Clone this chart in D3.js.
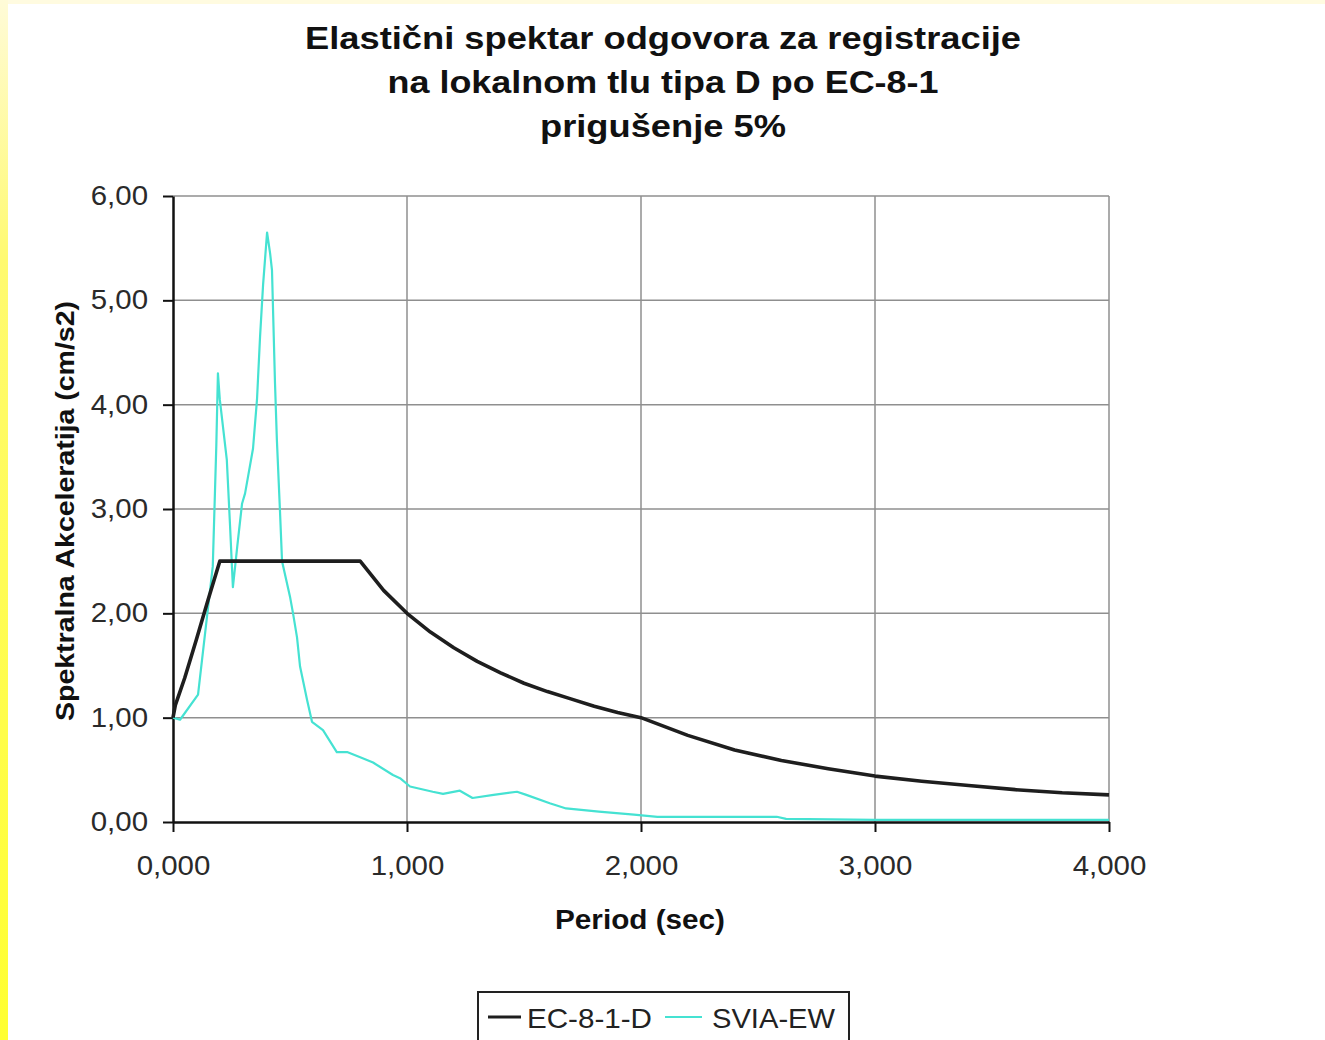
<!DOCTYPE html>
<html>
<head>
<meta charset="utf-8">
<script src="https://cdn.jsdelivr.net/npm/d3@7/dist/d3.min.js"></script>
<style>
  html, body { margin: 0; padding: 0; background: #fff; }
  svg { display: block; }
  text { font-family: "Liberation Sans", Arial, sans-serif; }
</style>
</head>
<body>
<svg id="chart" width="1325" height="1040"></svg>
<script>
// Title lines
const titleLines = [
  "Elastični spektar odgovora za registracije",
  "na lokalnom tlu tipa D po EC-8-1",
  "prigušenje 5%"
];

// Axis ticks
const xTicks = [0, 1, 2, 3, 4];
const xTickLabels = ["0,000", "1,000", "2,000", "3,000", "4,000"];
const yTicks = [0, 1, 2, 3, 4, 5, 6];
const yTickLabels = ["0,00", "1,00", "2,00", "3,00", "4,00", "5,00", "6,00"];

// Series names
const seriesNames = ["EC-8-1-D", "SVIA-EW"];

// EC-8-1 design spectrum, ground type D (period in s, Se)
const ecPeriod = [0.00, 0.01, 0.05, 0.10, 0.15, 0.20, 0.80, 0.90, 1.00, 1.10, 1.20, 1.30, 1.40, 1.50,
                  1.60, 1.70, 1.80, 1.90, 2.00, 2.20, 2.40, 2.60, 2.80, 3.00, 3.20, 3.40, 3.60, 3.80, 4.00];
const ecValue  = [1.00, 1.12, 1.38, 1.75, 2.13, 2.50, 2.50, 2.22, 2.00, 1.82, 1.67, 1.54, 1.43, 1.33,
                  1.25, 1.18, 1.11, 1.05, 1.00, 0.83, 0.69, 0.59, 0.51, 0.44, 0.39, 0.35, 0.31, 0.28, 0.26];

// Response spectrum of the SVIA-EW record
const sviaPeriod = [0.000, 0.030, 0.107, 0.170, 0.185, 0.192, 0.200, 0.230, 0.244, 0.256, 0.275, 0.295,
                    0.308, 0.342, 0.359, 0.372, 0.385, 0.402, 0.415, 0.423, 0.436, 0.444, 0.457, 0.466,
                    0.500, 0.513, 0.530, 0.543, 0.573, 0.594, 0.641, 0.700, 0.744, 0.800, 0.855, 0.940,
                    0.970, 1.013, 1.110, 1.154, 1.226, 1.280, 1.370, 1.470, 1.510, 1.610, 1.680, 1.820,
                    1.970, 2.070, 2.580, 2.620, 3.000, 3.500, 4.000];
const sviaValue  = [1.00, 0.98, 1.22, 2.45, 3.60, 4.30, 4.05, 3.47, 2.83, 2.25, 2.65, 3.05,
                    3.15, 3.58, 4.05, 4.65, 5.15, 5.65, 5.45, 5.29, 4.20, 3.66, 2.99, 2.50,
                    2.16, 2.00, 1.77, 1.49, 1.17, 0.96, 0.88, 0.67, 0.67, 0.62, 0.57, 0.45,
                    0.42, 0.34, 0.29, 0.27, 0.30, 0.23, 0.26, 0.29, 0.26, 0.18, 0.13, 0.10,
                    0.07, 0.05, 0.05, 0.03, 0.02, 0.02, 0.02];

const colors = ["#1e1e1e", "#45e2d2"];

const svg = d3.select("#chart");

// Widen a text element horizontally by a factor (slightly wide lettering)
function widen(sel, factor) {
  sel.each(function () {
    const w = this.getComputedTextLength();
    d3.select(this).attr("textLength", w * factor).attr("lengthAdjust", "spacingAndGlyphs");
  });
}

// Yellow frame along the top and left edge
const defs = svg.append("defs");
const grad = defs.append("linearGradient").attr("id", "edge").attr("x1", 0).attr("y1", 0).attr("x2", 0).attr("y2", 1);
grad.append("stop").attr("offset", "0%").attr("stop-color", "#fffbd8");
grad.append("stop").attr("offset", "25%").attr("stop-color", "#fffa70");
grad.append("stop").attr("offset", "100%").attr("stop-color", "#ffff30");
svg.append("rect").attr("x", 0).attr("y", 0).attr("width", 1325).attr("height", 4).attr("fill", "#fffbe0");
svg.append("rect").attr("x", 0).attr("y", 0).attr("width", 8).attr("height", 1040).attr("fill", "url(#edge)");

const x = d3.scaleLinear().domain([0, 4]).range([173, 1109]);
const y = d3.scaleLinear().domain([0, 6]).range([822, 196]);

// Title
const titleWidths = [716, 551, 246];
svg.append("g").selectAll("text").data(titleLines).join("text")
  .attr("x", 663).attr("y", (d, i) => 49 + i * 44)
  .attr("text-anchor", "middle")
  .attr("font-size", 32).attr("font-weight", "bold").attr("fill", "#111")
  .attr("textLength", (d, i) => titleWidths[i]).attr("lengthAdjust", "spacingAndGlyphs")
  .text(d => d);

// Gridlines
const grid = svg.append("g").attr("stroke", "#8f8f8f").attr("stroke-width", 1.5);
grid.selectAll(".gy").data(yTicks.filter(v => v > 0)).join("line")
  .attr("x1", x(0)).attr("x2", x(4)).attr("y1", d => y(d)).attr("y2", d => y(d));
grid.selectAll(".gx").data(xTicks.filter(v => v > 0)).join("line")
  .attr("x1", d => x(d)).attr("x2", d => x(d)).attr("y1", y(0)).attr("y2", y(6));

// Axes
const xAxis = d3.axisBottom(x).tickValues(xTicks).tickFormat((d, i) => xTickLabels[i])
  .tickSizeInner(10).tickSizeOuter(0).tickPadding(24);
const yAxis = d3.axisLeft(y).tickValues(yTicks).tickFormat((d, i) => yTickLabels[i])
  .tickSizeInner(10).tickSizeOuter(0).tickPadding(15);

const gx = svg.append("g").attr("transform", `translate(0,${y(0)})`).call(xAxis);
const gy = svg.append("g").attr("transform", `translate(${x(0)},0)`).call(yAxis);
[gx, gy].forEach(g => {
  g.select(".domain").attr("stroke", "#111").attr("stroke-width", 2.5);
  g.selectAll(".tick line").attr("stroke", "#111").attr("stroke-width", 2);
  g.selectAll(".tick text").attr("font-size", 27).attr("fill", "#2a2a2a")
    .attr("font-family", "'Liberation Sans', Arial, sans-serif");
  widen(g.selectAll(".tick text"), 1.09);
});
gx.selectAll(".tick text").attr("dy", "0.71em");

// Axis titles
svg.append("text").attr("x", 640).attr("y", 929).attr("text-anchor", "middle")
  .attr("font-size", 27).attr("font-weight", "bold").attr("fill", "#111")
  .attr("textLength", 170).attr("lengthAdjust", "spacingAndGlyphs")
  .text("Period (sec)");
svg.append("text").attr("transform", "translate(74,511) rotate(-90)").attr("text-anchor", "middle")
  .attr("font-size", 26).attr("font-weight", "bold").attr("fill", "#111")
  .attr("textLength", 420).attr("lengthAdjust", "spacingAndGlyphs")
  .text("Spektralna Akceleratija (cm/s2)");

// Series lines
const line = d3.line().x(d => x(d[0])).y(d => y(d[1]));
const ecData = ecPeriod.map((t, i) => [t, ecValue[i]]);
const sviaData = sviaPeriod.map((t, i) => [t, sviaValue[i]]);

svg.append("path").datum(sviaData).attr("d", line)
  .attr("fill", "none").attr("stroke", colors[1]).attr("stroke-width", 2.2).attr("stroke-linejoin", "round");
svg.append("path").datum(ecData).attr("d", line)
  .attr("fill", "none").attr("stroke", colors[0]).attr("stroke-width", 3.6).attr("stroke-linejoin", "round");

// Legend
const lg = svg.append("g");
lg.append("rect").attr("x", 478).attr("y", 992).attr("width", 371).attr("height", 52)
  .attr("fill", "#fff").attr("stroke", "#222").attr("stroke-width", 2);
const legendItems = [
  { name: seriesNames[0], color: colors[0], w: 3.2, x1: 488, x2: 521, tx: 527, tw: 125 },
  { name: seriesNames[1], color: colors[1], w: 2.2, x1: 665, x2: 702, tx: 712, tw: 123 }
];
legendItems.forEach(it => {
  lg.append("line").attr("x1", it.x1).attr("x2", it.x2).attr("y1", 1017).attr("y2", 1017)
    .attr("stroke", it.color).attr("stroke-width", it.w);
  lg.append("text").attr("x", it.tx).attr("y", 1028).attr("font-size", 28).attr("fill", "#222")
    .attr("textLength", it.tw).attr("lengthAdjust", "spacingAndGlyphs")
    .text(it.name);
});
</script>
</body>
</html>
